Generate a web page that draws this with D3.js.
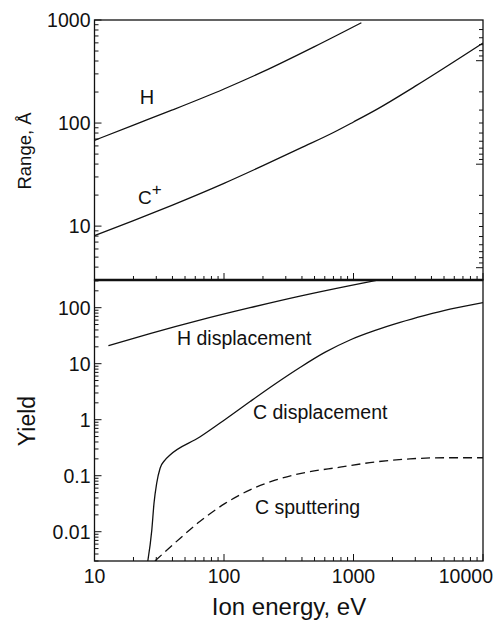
<!DOCTYPE html>
<html>
<head>
<meta charset="utf-8">
<script src="https://cdn.jsdelivr.net/npm/d3@7/dist/d3.min.js"></script>
<style>
  html, body { margin: 0; padding: 0; background: #fff; }
  svg { display: block; }
  text { font-family: "Liberation Sans", Arial, Helvetica, sans-serif; fill: #111; }
</style>
</head>
<body>
<svg id="chart" width="497" height="624"></svg>
<script>
// ---- data ----
// Projected range (Å) vs. ion energy (eV)
const hRangeEnergy  = [10, 20, 40, 100, 200, 500, 1150];
const hRange        = [68, 95.5, 134, 214, 315, 552, 941];
const cRangeEnergy  = [10, 20, 40, 100, 200, 400, 700, 1000, 1500, 3000, 10000];
const cRange        = [8.1, 11.3, 16, 26, 38.6, 58, 81, 102.5, 135, 228, 598];

// Yields vs. ion energy (eV)
const hDispEnergy   = [12.8, 26.8, 65, 159, 386, 940, 1600];
const hDisp         = [21, 34.5, 60, 100, 161, 248, 316];
const cDispEnergy   = [25.8, 27.7, 28.8, 30.2, 32.1, 35, 38.3, 65, 102, 159, 248, 386, 600, 940, 1470, 2290, 3570, 5560, 10000];
const cDisp         = [0.003, 0.0107, 0.032, 0.073, 0.136, 0.19, 0.234, 0.49, 1.01, 2.11, 4.34, 8.55, 15.9, 26.5, 39.2, 54.4, 72.6, 94, 123];
const cSputEnergy   = [29.3, 45.7, 65, 102, 159, 248, 386, 787, 1470, 2730, 5090, 10000];
const cSput         = [0.003, 0.0076, 0.0152, 0.032, 0.056, 0.083, 0.109, 0.142, 0.176, 0.2, 0.209, 0.209];

// tick labels
const energyTicks = [10, 100, 1000, 10000];
const energyTickLabels = ["10", "100", "1000", "10000"];
const rangeTicks = [10, 100, 1000];
const rangeTickLabels = ["10", "100", "1000"];
const yieldTicks = [0.01, 0.1, 1, 10, 100];
const yieldTickLabels = ["0.01", "0.1", "1", "10", "100"];

// ---- layout ----
const svg = d3.select("#chart");
const left = 94.5, right = 483;
const top1 = 20, bot1 = 280;   // range panel
const top2 = 280, bot2 = 561;  // yield panel

const x = d3.scaleLog().domain([10, 10000]).range([left, right]);
const yR = d3.scaleLog().domain([3, 1000]).range([bot1, top1]);
const yY = d3.scaleLog().domain([0.003, 312]).range([bot2, top2]);
// mirror scale on the right of the range panel (decades increase downward)
const yRight = d3.scaleLog().domain([1, 100]).range([60.7, 267.7]);

const defs = svg.append("defs");
defs.append("clipPath").attr("id", "clipTop").append("rect")
  .attr("x", left).attr("y", top1).attr("width", right - left).attr("height", bot1 - top1);
defs.append("clipPath").attr("id", "clipBot").append("rect")
  .attr("x", left).attr("y", top2).attr("width", right - left).attr("height", bot2 - top2);

const stroke = "#111";
const isMajor = v => Math.abs(Math.log10(v) - Math.round(Math.log10(v))) < 1e-6;

// ---- ticks ----
function xTicks(yPos, domainTicks) {
  const g = svg.append("g");
  domainTicks.forEach(v => {
    const len = isMajor(v) ? 7 : 4;
    g.append("line").attr("x1", x(v)).attr("x2", x(v))
      .attr("y1", yPos).attr("y2", yPos - len)
      .attr("stroke", stroke).attr("stroke-width", 1);
  });
}
const xAll = x.ticks().filter(v => v >= 10 && v <= 10000);
xTicks(bot1, xAll);
xTicks(bot2, xAll);

function yTicksLeft(scale, lo, hi) {
  const g = svg.append("g");
  d3.scaleLog().domain([lo, hi]).ticks().forEach(v => {
    const yy = scale(v);
    const len = isMajor(v) ? 7 : 4;
    g.append("line").attr("x1", left).attr("x2", left + len)
      .attr("y1", yy).attr("y2", yy).attr("stroke", stroke).attr("stroke-width", 1);
  });
}
yTicksLeft(yR, 3, 1000);
yTicksLeft(yY, 0.003, 300);

// right-hand ticks of the range panel
d3.scaleLog().domain([0.41, 131]).ticks().forEach(v => {
  const yy = yRight(v);
  if (yy < top1 || yy > bot1) return;
  const len = isMajor(v) ? 7 : 4;
  svg.append("line").attr("x1", right).attr("x2", right - len)
    .attr("y1", yy).attr("y2", yy).attr("stroke", stroke).attr("stroke-width", 1);
});

// ---- frames ----
svg.append("rect").attr("x", left).attr("y", top1).attr("width", right - left).attr("height", bot1 - top1)
  .attr("fill", "none").attr("stroke", stroke).attr("stroke-width", 1.3);
svg.append("rect").attr("x", left).attr("y", top2).attr("width", right - left).attr("height", bot2 - top2)
  .attr("fill", "none").attr("stroke", stroke).attr("stroke-width", 1.3);
svg.append("line").attr("x1", left).attr("x2", right).attr("y1", bot1).attr("y2", bot1)
  .attr("stroke", stroke).attr("stroke-width", 2.6);

// ---- tick labels ----
const tickFont = 19.5;
rangeTicks.forEach((v, i) => {
  svg.append("text").attr("x", left - 4).attr("y", yR(v)).attr("dy", "0.35em")
    .attr("text-anchor", "end").attr("font-size", tickFont).text(rangeTickLabels[i]);
});
yieldTicks.forEach((v, i) => {
  svg.append("text").attr("x", left - 4).attr("y", yY(v)).attr("dy", "0.35em")
    .attr("text-anchor", "end").attr("font-size", tickFont).text(yieldTickLabels[i]);
});
energyTicks.forEach((v, i) => {
  const last = i === energyTicks.length - 1;
  svg.append("text").attr("x", last ? x(v) + 10 : x(v)).attr("y", bot2 + 22)
    .attr("text-anchor", last ? "end" : "middle").attr("font-size", tickFont)
    .text(energyTickLabels[i]);
});

// ---- axis titles ----
svg.append("text").attr("transform", "translate(31,151) rotate(-90)")
  .attr("text-anchor", "middle").attr("font-size", 18.5).text("Range, Å");
svg.append("text").attr("transform", "translate(35,421) rotate(-90)")
  .attr("text-anchor", "middle").attr("font-size", 23).text("Yield");
svg.append("text").attr("x", 289).attr("y", 615)
  .attr("text-anchor", "middle").attr("font-size", 24).text("Ion energy, eV");

// ---- curves ----
function drawCurve(energies, values, yScale, clip, dash) {
  const pts = energies.map((e, i) => [e, values[i]]);
  const line = d3.line()
    .x(d => x(d[0])).y(d => yScale(d[1]))
    .curve(d3.curveMonotoneX);
  svg.append("path").datum(pts)
    .attr("d", line)
    .attr("clip-path", `url(#${clip})`)
    .attr("fill", "none").attr("stroke", stroke).attr("stroke-width", 1.3)
    .attr("stroke-dasharray", dash || null);
}
drawCurve(hRangeEnergy, hRange, yR, "clipTop");
drawCurve(cRangeEnergy, cRange, yR, "clipTop");
drawCurve(hDispEnergy, hDisp, yY, "clipBot");
drawCurve(cDispEnergy, cDisp, yY, "clipBot");
drawCurve(cSputEnergy, cSput, yY, "clipBot", "9,5");

// ---- curve labels ----
svg.append("text").attr("x", 147).attr("y", 104).attr("text-anchor", "middle")
  .attr("font-size", 20).text("H");
const cp = svg.append("text").attr("x", 138).attr("y", 204).attr("font-size", 19);
cp.append("tspan").text("C");
cp.append("tspan").attr("dy", -9).attr("font-size", 17).text("+");

svg.append("text").attr("x", 177).attr("y", 345).attr("font-size", 19.5).text("H displacement");
svg.append("text").attr("x", 253).attr("y", 419).attr("font-size", 19.5).text("C displacement");
svg.append("text").attr("x", 255).attr("y", 514).attr("font-size", 19.5).text("C sputtering");
</script>
</body>
</html>
